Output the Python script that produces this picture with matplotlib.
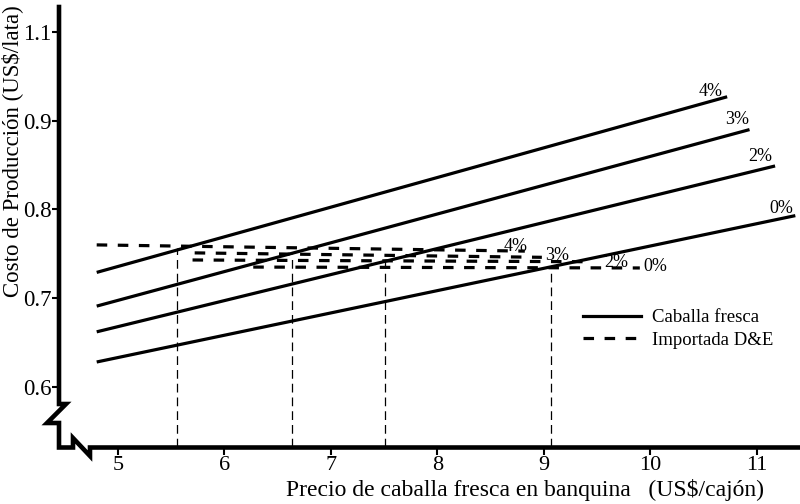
import matplotlib
matplotlib.use("Agg")
import matplotlib.pyplot as plt

plt.rcParams['font.family'] = ['Liberation Serif', 'DejaVu Serif']

# Data
RATES = ["0%", "2%", "3%", "4%"]

# Caballa fresca (solid lines): start / end points
FRESH_X = [[4.80, 11.36], [4.80, 11.17], [4.80, 10.93], [4.80, 10.72]]
FRESH_Y = [[0.628, 0.793], [0.662, 0.849], [0.691, 0.890], [0.729, 0.927]]

# Importada D&E (dashed lines): start / end points
IMPORT_X = [[6.27, 9.90], [5.70, 9.46], [5.72, 8.98], [4.80, 8.82]]
IMPORT_Y = [[0.735, 0.734], [0.743, 0.741], [0.751, 0.746], [0.760, 0.753]]

# Break-even prices (vertical guide lines)
CROSS_X = [9.07, 7.51, 6.63, 5.55]
CROSS_Y = [0.734, 0.742, 0.750, 0.756]

# label positions
FRESH_LABEL_XY = [(11.225, 0.8016), (11.028, 0.8591), (10.812, 0.9019), (10.568, 0.9324)]
IMPORT_LABEL_XY = [(10.042, 0.7351), (9.676, 0.7407), (9.122, 0.7486), (8.737, 0.7587)]

X_TICKS = [5, 6, 7, 8, 9, 10, 11]
Y_TICKS = [0.6, 0.7, 0.8, 0.9, 1.0]
Y_TICK_LABELS = ["0.6", "0.7", "0.8", "0.9", "1.1"]

# Figure geometry (pixels)
W_PX, H_PX = 800, 504
L, B, R, T = 59, 447.5, 800, 7

fig = plt.figure(figsize=(W_PX / 100, H_PX / 100), dpi=100)
ax = fig.add_axes([L / W_PX, (H_PX - B) / H_PX, (R - L) / W_PX, (B - T) / H_PX])
ax.set_xlim(4.446, 11.404)
ax.set_ylim(0.5316, 1.0282)
for s in ax.spines.values():
    s.set_visible(False)

dash = (0, (3.3, 3.3))
for x, y in zip(FRESH_X, FRESH_Y):
    ax.plot(x, y, color='black', lw=2.3, solid_capstyle='butt')
for x, y in zip(IMPORT_X, IMPORT_Y):
    ax.plot(x, y, color='black', lw=2.3, linestyle=dash)

ymin = ax.get_ylim()[0]
ax.vlines(CROSS_X, ymin, CROSS_Y, colors='black', lw=0.9, linestyles=(0, (7, 4)))

for lab, (x, y) in zip(RATES, FRESH_LABEL_XY):
    ax.text(x, y, lab, fontsize=13, ha='center', va='center')
for lab, (x, y) in zip(RATES, IMPORT_LABEL_XY):
    ax.text(x, y, lab, fontsize=13, ha='center', va='center')

# legend
h1, = ax.plot([], [], color='black', lw=2.3)
h2, = ax.plot([], [], color='black', lw=2.3, linestyle=dash)
ax.legend([h1, h2], ["Caballa fresca", "Importada D&E"], frameon=False,
          loc='center left', bbox_to_anchor=((583 - L) / (R - L), (B - 329) / (B - T)),
          fontsize=13.5, handlelength=3.1, handletextpad=0.6, labelspacing=0.3,
          borderpad=0, borderaxespad=0)

# broken axis drawn by hand (pixel path -> axes fraction)
axis_px = [(59, 7), (59, 404), (66, 404), (47, 423), (59, 423), (59, B),
           (73, B), (73, 438), (90, 456), (90, B), (800, B)]
ax.plot([(px - L) / (R - L) for px, _ in axis_px],
        [(B - py) / (B - T) for _, py in axis_px],
        transform=ax.transAxes, color='black', lw=3.3, clip_on=False,
        solid_joinstyle='miter')

ax.set_xticks(X_TICKS)
ax.set_xticklabels([str(v) for v in X_TICKS])
ax.set_yticks(Y_TICKS)
ax.set_yticklabels(Y_TICK_LABELS)
ax.tick_params(axis='x', direction='out', length=5, width=1.5, pad=1, labelsize=16)
ax.tick_params(axis='y', direction='out', length=5, width=1.5, pad=0.5, labelsize=16.5)

ax.set_xlabel("Precio de caballa fresca en banquina   (US$/cajón)", fontsize=17)
ax.xaxis.set_label_coords((525 - L) / (R - L), (B - 490) / (B - T))
ax.xaxis.label.set_va('center')
ax.set_ylabel("Costo de Producción (US$/lata)", fontsize=16.5)
ax.yaxis.set_label_coords((12 - L) / (R - L), (B - 151) / (B - T))
ax.yaxis.label.set_va('center')

fig.savefig("out.png", dpi=100)
